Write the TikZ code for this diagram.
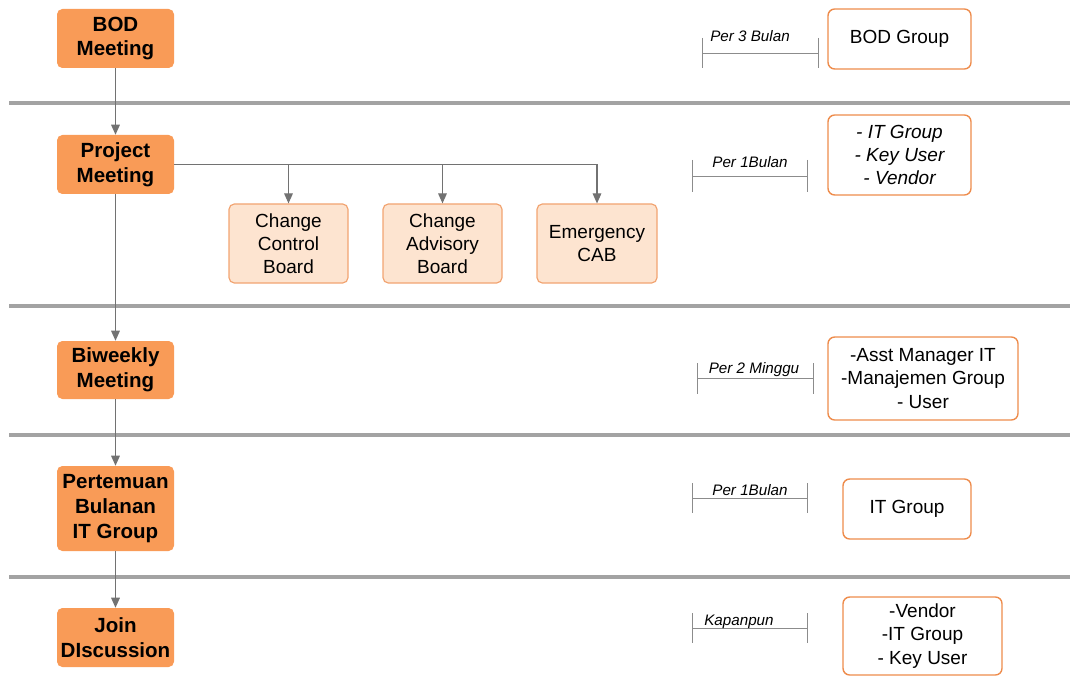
\documentclass[tikz,border=0pt]{standalone}
\usepackage{fontspec}
\setmainfont{Liberation Sans}
\usetikzlibrary{arrows.meta}

\definecolor{meetfill}{HTML}{F99B57}
\definecolor{subfill}{HTML}{FDE4D0}
\definecolor{subline}{HTML}{F2A472}
\definecolor{grpline}{HTML}{EE8C4C}
\definecolor{band}{HTML}{A3A3A3}
\definecolor{conn}{HTML}{727272}
\definecolor{tickc}{HTML}{8C8C8C}

\tikzset{
  meeting/.style={fill=meetfill, rounded corners=4pt, inner sep=0pt,
    minimum width=87.75pt, align=center,
    font=\bfseries\fontsize{15.4}{18.5}\selectfont},
  board/.style={draw=subline, fill=subfill, line width=0.9pt, rounded corners=4pt,
    inner sep=0pt, minimum width=89.25pt, minimum height=59.25pt, align=center,
    font=\fontsize{14.25}{17.25}\selectfont},
  group/.style={draw=grpline, fill=white, line width=1.05pt, rounded corners=5pt,
    inner sep=0pt, align=center, font=\fontsize{14.25}{17.5}\selectfont},
  flow/.style={draw=conn, line width=0.8pt, -{Triangle[width=6.5pt,length=7.5pt]}},
  divider/.style={draw=band, line width=3pt},
  span/.style={draw=tickc, line width=0.7pt},
  spanlabel/.style={anchor=base, inner sep=0pt, font=\itshape\fontsize{11.4}{13}\selectfont}
}

\begin{document}
\begin{tikzpicture}[x=0.75pt, y=-0.75pt]
  \useasboundingbox (0,0) rectangle (1070,677);

  % horizontal dividers between the meeting levels
  \foreach \yy in {103.3, 305.7, 435, 576.7}
    \draw[divider] (9,\yy) -- (1070,\yy);

  % meeting levels
  \node[meeting, minimum height=44.25pt] (bod)  at (115.5,38.5)  {BOD\\Meeting};
  \node[meeting, minimum height=44.25pt] (proj) at (115.5,164.5) {Project\\Meeting};
  \node[meeting, minimum height=43.5pt]  (biw)  at (115.5,370)   {Biweekly\\Meeting};
  \node[meeting, minimum height=63.75pt] (pert) at (115.5,508.5) {Pertemuan\\Bulanan\\IT Group};
  \node[meeting, minimum height=44.25pt] (join) at (115.5,637.5) {Join\\DIscussion};

  % boards under the project meeting
  \node[board] (ccb)  at (288.5,243.5) {Change\\Control\\Board};
  \node[board] (cab)  at (442.5,243.5) {Change\\Advisory\\Board};
  \node[board, minimum width=90pt] (ecab) at (597,243.5) {Emergency\\CAB};

  % participants
  \node[group, minimum width=107.25pt, minimum height=45pt]   (g1) at (899.5,39)  {BOD Group};
  \node[group, minimum width=107.25pt, minimum height=60pt, font=\itshape\fontsize{14.25}{17.5}\selectfont]
       (g2) at (899.5,155) {- IT Group\\- Key User\\- Vendor};
  \node[group, minimum width=142.5pt, minimum height=62.25pt] (g3) at (923,378.5) {-Asst Manager IT\\-Manajemen Group\\- User};
  \node[group, minimum width=96pt, minimum height=45pt]       (g4) at (907,509)   {IT Group};
  \node[group, minimum width=119.25pt, minimum height=58.5pt] (g5) at (922.5,636) {-Vendor\\-IT Group\\- Key User};

  % flow between levels
  \draw[flow] (bod)  -- (proj);
  \draw[flow] (proj) -- (biw);
  \draw[flow] (biw)  -- (pert);
  \draw[flow] (pert) -- (join);

  % branch to the boards
  \draw[flow] (proj.east) -| (ecab.north);
  \draw[flow] (ccb.north |- proj.east) -- (ccb.north);
  \draw[flow] (cab.north |- proj.east) -- (cab.north);

  % frequency spans: x1, x2, top, bottom, label x, label baseline, label
  \foreach \xa/\xb/\ya/\yb/\lx/\ly/\txt in {
      702/818/38/68/750/42/Per 3 Bulan,
      692/807/160/192/750/168/Per 1Bulan,
      697/813/363/394/754/373/Per 2 Minggu,
      692/807/483/513/750/495/Per 1Bulan,
      692/807/613/643/739/625/Kapanpun} {
    \draw[span] (\xa,\ya) -- (\xa,\yb);
    \draw[span] (\xb,\ya) -- (\xb,\yb);
    \draw[span] (\xa,{(\ya+\yb)/2}) -- (\xb,{(\ya+\yb)/2});
    \node[spanlabel] at (\lx,\ly) {\txt};
  }
\end{tikzpicture}
\end{document}
